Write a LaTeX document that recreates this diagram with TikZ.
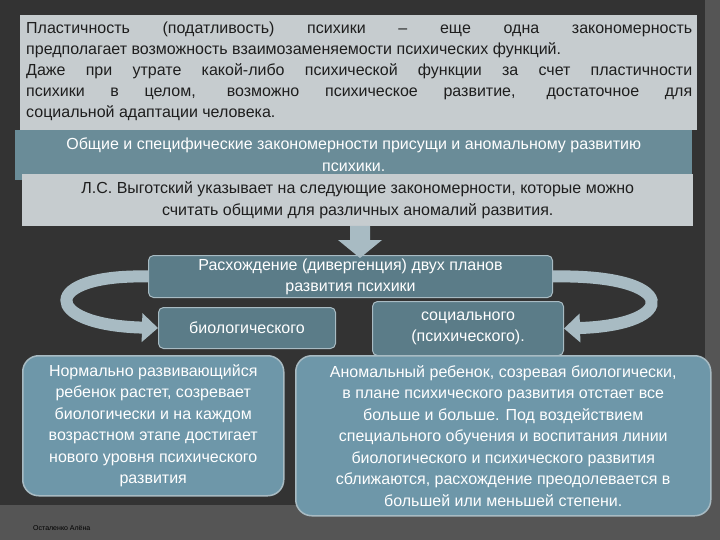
\documentclass[tikz,border=0pt]{standalone}
\usepackage{fontspec}
\setmainfont{Liberation Sans}
\usetikzlibrary{arrows.meta}
\definecolor{bgd}{HTML}{333333}
\definecolor{bgl}{HTML}{555555}
\definecolor{lightb}{HTML}{C6CCCF}
\definecolor{tealb}{HTML}{6A8C98}
\definecolor{darkt}{HTML}{5B7C88}
\definecolor{bluet}{HTML}{6E97A9}
\definecolor{arr}{HTML}{A8BBC3}
\definecolor{txt}{HTML}{1E1E1E}
\tikzset{
 lbox/.style={fill=lightb,inner sep=0pt,text=txt,font=\fontsize{16}{22}\selectfont},
 tbox/.style={fill=tealb,inner sep=0pt,text=white,font=\fontsize{16}{22}\selectfont,align=center},
 rbox/.style={fill=darkt,draw=arr,line width=1pt,rounded corners=5pt,text=white,font=\fontsize{16}{21}\selectfont,align=center,inner sep=0pt},
 bbox/.style={fill=bluet,draw=arr,line width=1.5pt,rounded corners=16pt,text=white,font=\fontsize{16}{21.5}\selectfont,align=center,inner sep=0pt},
 curv/.style={line width=12pt,draw=arr,-{Triangle[length=16pt,width=28pt]}}
}
\begin{document}
\begin{tikzpicture}[x=1pt,y=-1pt]
\fill[bgl] (0,0) rectangle (720,540);
\fill[bgd] (0,0) rectangle (705,505);
\node[lbox,minimum width=677pt,minimum height=115pt,anchor=north west] (b1) at (20,15) {};
\node[anchor=north west,inner sep=0pt,text=txt,font=\fontsize{16}{21}\selectfont] (t1) at (26,22)
 {\parbox{666pt}{\noindent Пластичность (податливость) психики – еще одна закономерность\linebreak предполагает возможность взаимозаменяемости психических функций.\newline Даже при утрате какой-либо психической функции за счет пластичности\linebreak психики в целом, возможно психическое развитие, достаточное для\linebreak социальной адаптации человека.}};
\node[tbox,minimum width=677pt,minimum height=50pt,anchor=north west] (b2) at (15,130) {Общие и специфические закономерности присущи и аномальному развитию\\психики.};
\node[lbox,align=center,minimum width=671pt,minimum height=52pt,anchor=north west] (b3) at (22,174) {Л.С. Выготский указывает на следующие закономерности, которые можно\\считать общими для различных аномалий развития.};
\node[rbox,minimum width=404pt,minimum height=42pt,anchor=north west] (b4) at (148,255) {Расхождение (дивергенция) двух планов\\развития психики};
\fill[arr] (350,226) -- (370,226) -- (370,240) -- (382,240) -- (360,258) -- (338,240) -- (350,240) -- cycle;
\node[rbox,minimum width=177pt,minimum height=41pt,anchor=north west] (b5) at (158,307) {биологического};
\node[rbox,minimum width=191pt,minimum height=54pt,anchor=north west] (b6) at (372,301) {социального\\(психического).};
\draw[curv] (b4.west) .. controls (40,274) and (40,325) .. (b5.west);
\draw[curv] (b4.east) .. controls (680,274) and (680,325) .. (b6.east);
\node[bbox,minimum width=261pt,minimum height=140pt,anchor=north west] (b7) at (22,355) {Нормально развивающийся\\ребенок растет, созревает\\биологически и на каждом\\возрастном этапе достигает\\нового уровня психического\\развития};
\node[bbox,minimum width=415pt,minimum height=160pt,anchor=north west] (b8) at (295,355) {Аномальный ребенок, созревая биологически,\\в плане психического развития отстает все\\больше и больше. Под воздействием\\специального обучения и воспитания линии\\биологического и психического развития\\сближаются, расхождение преодолевается в\\большей или меньшей степени.};
\node[anchor=west,font=\fontsize{7}{8}\selectfont,text=black,inner sep=0pt] (au) at (33,528) {Осталенко Алёна};
\end{tikzpicture}
\end{document}
